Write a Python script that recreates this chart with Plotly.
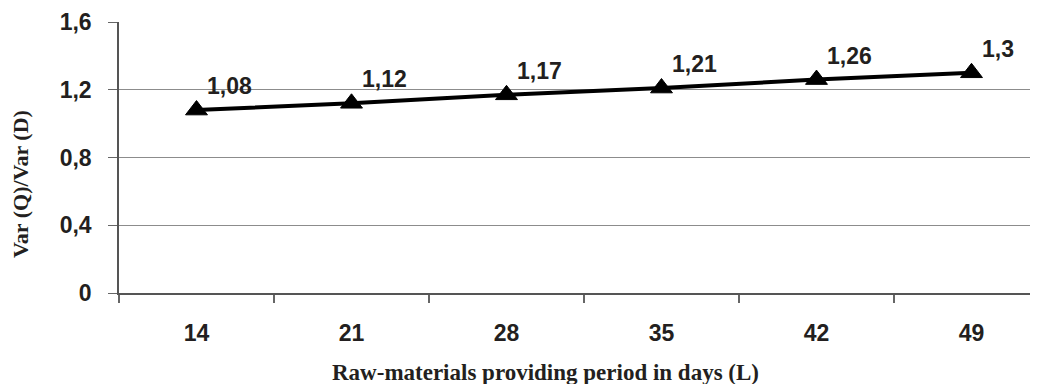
import plotly.graph_objects as go

categories = ["14", "21", "28", "35", "42", "49"]
ratio_values = [1.08, 1.12, 1.17, 1.21, 1.26, 1.3]
y_tick_values = [0, 0.4, 0.8, 1.2, 1.6]
y_tick_labels = ["0", "0,4", "0,8", "1,2", "1,6"]
x_title = "Raw-materials providing period in days (L)"
y_title = "Var (Q)/Var (D)"

OFF = 8  # default body margin of the page
W, H = 1038, 392 - 2 * OFF
L, T = 119 - OFF, 22 - OFF
B = H - (293 - OFF)
PW, PH = W - L, H - T - B
cat_px = 155.0
x_hi = -0.5 + PW / cat_px

num_font = dict(family="Liberation Sans, Arial, sans-serif", size=23, color="#231f20", weight="bold")
ser_font = dict(family="Liberation Serif, Times New Roman, serif", size=23, color="#231f20", weight="bold")
ser_font_y = dict(ser_font, size=22)


def px_x(sx):
    return (sx - OFF - L) / PW


def px_y(sy):
    return (H - B - (sy - OFF)) / PH


fig = go.Figure()
fig.add_trace(go.Scatter(
    x=categories, y=ratio_values, mode="lines+markers",
    line=dict(color="#000000", width=4),
    marker=dict(symbol="triangle-up", size=19, color="#000000", line=dict(color="#000000", width=1)),
    showlegend=False, cliponaxis=False,
))

labels = [f"{v:g}".replace(".", ",") for v in ratio_values]
for i, (v, t) in enumerate(zip(ratio_values, labels)):
    fig.add_annotation(x=i, y=v, xref="x", yref="y", text=t, showarrow=False,
                       xanchor="left", yanchor="middle", xshift=8, yshift=24, font=num_font)

fig.add_annotation(x=px_x(545), y=px_y(372), xref="paper", yref="paper",
                   text=x_title, showarrow=False, xanchor="center", yanchor="middle", font=ser_font)
fig.add_annotation(x=px_x(20), y=px_y(184), xref="paper", yref="paper",
                   text=y_title, showarrow=False, textangle=-90, xanchor="center", yanchor="middle", font=ser_font_y)

fig.update_layout(
    width=W, height=H,
    margin=dict(l=L, r=0, t=T, b=B, pad=0),
    paper_bgcolor="white", plot_bgcolor="white",
    separators=",.",
    xaxis=dict(
        type="category", range=[-0.5, x_hi], tickson="boundaries",
        ticks="outside", ticklen=8, tickwidth=1.5, tickcolor="#666666",
        showline=True, linecolor="#555555", linewidth=2,
        showgrid=False, zeroline=False,
        tickfont=num_font, ticklabelstandoff=18,
    ),
    yaxis=dict(
        range=[0, 1.6], tickvals=y_tick_values, ticktext=y_tick_labels,
        ticks="outside", ticklen=9, tickwidth=1, tickcolor="#666666",
        showline=True, linecolor="#555555", linewidth=1.5,
        showgrid=True, gridcolor="#8c8c8c", gridwidth=1,
        zeroline=False, tickfont=num_font, ticklabelstandoff=12,
    ),
)

fig.write_html("out.html")
